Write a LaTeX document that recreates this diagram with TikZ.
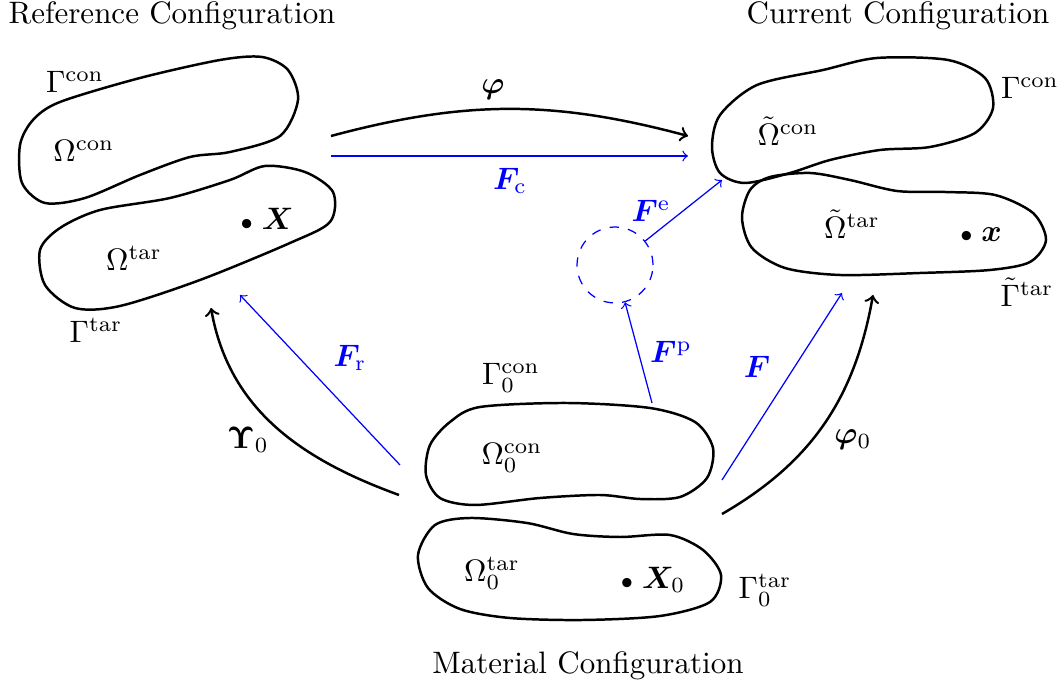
\documentclass[tikz,border=0pt]{standalone}
\usepackage{amsmath}
\usepackage{bm}

\tikzset{
    region/.style={thick},
    mapping/.style={->, thick},
    deform/.style={->, blue},
    blue label/.style={text=blue}
}

\begin{document}
\begin{tikzpicture}[x=0.3226pt, y=0.3226pt]

    \useasboundingbox (0,0) rectangle (1062,-691);

    % 1. Gebiete (Referenz-, Momentan- und Materialkonfiguration)
    % Referenzkonfiguration
    \draw[region] plot[smooth cycle] coordinates {
        (60,-102) (140,-78) (220,-60) (262,-57) (288,-70) (298,-100) (280,-136)
        (230,-152) (190,-157) (140,-175) (85,-198) (45,-203) (22,-183) (20,-145) (33,-120)};
    \draw[region] plot[smooth cycle] coordinates {
        (100,-210) (170,-198) (230,-180) (265,-166) (305,-172) (333,-192) (330,-222)
        (290,-243) (200,-280) (120,-306) (75,-308) (45,-285) (40,-250) (60,-228)};

    % Momentankonfiguration
    \draw[region] plot[smooth cycle] coordinates {
        (757,-85) (823,-70) (877,-58) (948,-60) (985,-78) (993,-108) (975,-133)
        (930,-147) (880,-150) (830,-160) (790,-173) (745,-183) (720,-173) (712,-147) (720,-115)};
    \draw[region] plot[smooth cycle] coordinates {
        (770,-177) (810,-173) (850,-180) (897,-191) (945,-192) (995,-195) (1033,-213)
        (1046,-240) (1030,-262) (990,-270) (920,-273) (840,-275) (785,-268)
        (752,-248) (742,-218) (750,-190)};

    % Materialkonfiguration
    \draw[region] plot[smooth cycle] coordinates {
        (480,-407) (567,-403) (650,-408) (695,-422) (713,-448) (707,-478) (680,-497)
        (640,-499) (600,-495) (540,-498) (475,-505) (440,-498) (426,-475) (430,-445) (450,-422)};
    \draw[region] plot[smooth cycle] coordinates {
        (470,-518) (527,-523) (573,-534) (620,-537) (670,-535) (703,-550) (721,-575)
        (710,-602) (660,-616) (583,-620) (510,-618) (460,-609) (428,-588) (418,-555) (435,-525)};

    % 2. Beschriftung der Gebiete und Raender
    \node (refTitle) at (172,-16) {Reference Configuration};
    \node (curTitle) at (898,-16) {Current Configuration};
    \node (matTitle) at (588,-666) {Material Configuration};

    \node (GammaCon)  at (75,-82)   {$\Gamma^{\mathrm{con}}$};
    \node (OmegaCon)  at (84,-151)  {$\Omega^{\mathrm{con}}$};
    \node (OmegaTar)  at (134,-258) {$\Omega^{\mathrm{tar}}$};
    \node (GammaTar)  at (96,-330)  {$\Gamma^{\mathrm{tar}}$};
    \node (pointX)    at (267,-219) {${\scriptstyle\bullet}\;\bm{X}$};

    \node (tGammaCon) at (1030,-88)  {$\Gamma^{\mathrm{con}}$};
    \node (tOmegaCon) at (788,-131)  {$\tilde{\Omega}^{\mathrm{con}}$};
    \node (tOmegaTar) at (852,-224)  {$\tilde{\Omega}^{\mathrm{tar}}$};
    \node (tGammaTar) at (1027,-292) {$\tilde{\Gamma}^{\mathrm{tar}}$};
    \node (pointx)    at (981,-235)  {${\scriptstyle\bullet}\;\bm{x}$};

    \node (GammaCon0) at (511,-378) {$\Gamma_0^{\mathrm{con}}$};
    \node (OmegaCon0) at (512,-458) {$\Omega_0^{\mathrm{con}}$};
    \node (OmegaTar0) at (492,-573) {$\Omega_0^{\mathrm{tar}}$};
    \node (GammaTar0) at (765,-590) {$\Gamma_0^{\mathrm{tar}}$};
    \node (pointX0)   at (653,-580) {${\scriptstyle\bullet}\;\bm{X}_0$};

    % 3. Abbildungen (schwarz)
    \coordinate (phiA) at (331,-136);
    \coordinate (phiB) at (688,-136);
    \draw[mapping] (phiA) to[bend left=15] (phiB);
    \node (phiLbl) at (493,-90) {$\bm{\varphi}$};

    \coordinate (upsA) at (399,-495);
    \coordinate (upsB) at (211,-308);
    \draw[mapping] (upsA) to[out=160, in=-80] (upsB);
    \node (upsLbl) at (248,-440) {$\bm{\Upsilon}_0$};

    \coordinate (phiNullA) at (722,-514);
    \coordinate (phiNullB) at (873,-295);
    \draw[mapping] (phiNullA) to[out=30, in=-100] (phiNullB);
    \node (phiNullLbl) at (853,-440) {$\bm{\varphi}_0$};

    % 4. Deformationsgradienten (blau)
    \node[draw=blue, dashed, circle, minimum size=24.5pt, inner sep=0pt] (inter) at (615,-265) {};

    \coordinate (FcA) at (331,-156);
    \coordinate (FcB) at (688,-156);
    \draw[deform] (FcA) -- (FcB);
    \node[blue label] (FcLbl) at (510,-181) {$\bm{F}_{\mathrm{c}}$};

    \coordinate (FeB) at (722,-180);
    \draw[deform] (inter) -- (FeB);
    \node[blue label] (FeLbl) at (651,-211) {$\bm{F}^{\mathrm{e}}$};

    \coordinate (FpA) at (652,-403);
    \draw[deform] (FpA) -- (inter);
    \node[blue label] (FpLbl) at (671,-352) {$\bm{F}^{\mathrm{p}}$};

    \coordinate (FA) at (722,-480);
    \coordinate (FB) at (842,-293);
    \draw[deform] (FA) -- (FB);
    \node[blue label] (FLbl) at (757,-367) {$\bm{F}$};

    \coordinate (FrA) at (400,-465);
    \coordinate (FrB) at (240,-295);
    \draw[deform] (FrA) -- (FrB);
    \node[blue label] (FrLbl) at (350,-358) {$\bm{F}_{\mathrm{r}}$};

\end{tikzpicture}
\end{document}
